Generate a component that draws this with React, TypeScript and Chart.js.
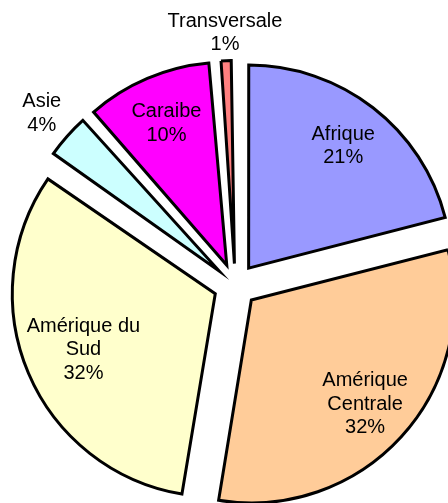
import React, { useEffect, useRef } from "react";
import { Chart, registerables } from "chart.js";

Chart.register(...registerables);

const categories = ["Afrique", "Amérique Centrale", "Amérique du Sud", "Asie", "Caraibe", "Transversale"];
const values = [21.0, 31.6, 32.0, 3.9, 10.2, 1.3];
const colors = ["#9999FF", "#FFCC99", "#FFFFCC", "#CCFFFF", "#FF00FF", "#FF8080"];

const FONT_SIZE = 20;
const LINE_H = 23.5;
const FONT = `${FONT_SIZE}px "Liberation Sans", Arial, sans-serif`;
const WRAP_W = 120;
const EXPLODE = 87; // chart.js arc offset (translation = offset / 4)
const RADIUS = 203;

function wrap(ctx: CanvasRenderingContext2D, text: string): string[] {
  const words = text.split(" ");
  const lines: string[] = [];
  let cur = "";
  for (const w of words) {
    const t = cur ? cur + " " + w : w;
    if (cur && ctx.measureText(t).width > WRAP_W) {
      lines.push(cur);
      cur = w;
    } else cur = t;
  }
  if (cur) lines.push(cur);
  return lines;
}

// keep every exploded slice at the same radius
const radiusFix = {
  id: "radiusFix",
  beforeDatasetDraw(chart: any, args: any) {
    const meta = args.meta;
    const base = meta.controller.outerRadius;
    meta.data.forEach((arc: any) => {
      const off = (arc.options.offset || 0) / 4;
      const fix = 1 - Math.sin(Math.min(Math.PI, arc.circumference || 0));
      arc.outerRadius = base - off * fix;
    });
  },
};

const labelPlugin = {
  id: "sliceLabels",
  afterDatasetsDraw(chart: any) {
    const ctx: CanvasRenderingContext2D = chart.ctx;
    const meta = chart.getDatasetMeta(0);
    const data: number[] = chart.data.datasets[0].data;
    const total = data.reduce((a, b) => a + b, 0);
    const R = meta.controller.outerRadius;
    ctx.save();
    ctx.font = FONT;
    ctx.fillStyle = "#000";
    ctx.textAlign = "center";
    ctx.textBaseline = "middle";
    meta.data.forEach((arc: any, i: number) => {
      const { x, y, startAngle, endAngle } = arc.getProps(["x", "y", "startAngle", "endAngle"], true);
      const mid = (startAngle + endAngle) / 2;
      const t = (arc.options.offset || 0) / 4;
      const dx = Math.cos(mid);
      const dy = Math.sin(mid);
      const ax = x + dx * t;
      const ay = y + dy * t;
      const pct = (data[i] / total) * 100;
      const lines = [...wrap(ctx, chart.data.labels[i]), Math.round(pct) + "%"];
      const widths = lines.map((l) => ctx.measureText(l).width);
      const n = lines.length;
      const offs = lines.map((_, k) => (k - (n - 1) / 2) * LINE_H);
      const hg = 8;
      let dist: number;
      if (pct < 5) {
        const hw = Math.max(...widths) / 2;
        const hh = ((n - 1) / 2) * LINE_H + hg;
        const ex = Math.abs(dx) > 1e-6 ? hw / Math.abs(dx) : Infinity;
        const ey = Math.abs(dy) > 1e-6 ? hh / Math.abs(dy) : Infinity;
        dist = R + 8 + Math.min(ex, ey);
      } else {
        const limit = R - 10;
        const maxCorner = (d: number) => {
          let m = 0;
          lines.forEach((_, k) => {
            const cx = dx * d;
            const cy = dy * d + offs[k];
            for (const sx of [-1, 1])
              for (const sy of [-1, 1])
                m = Math.max(m, Math.hypot(cx + (sx * widths[k]) / 2, cy + sy * hg));
          });
          return m;
        };
        dist = 0.76 * R;
        while (dist > 0 && maxCorner(dist) > limit) dist -= 0.5;
      }
      const cx = ax + dx * dist;
      const cy = ay + dy * dist;
      lines.forEach((l, k) => ctx.fillText(l, cx, cy + offs[k]));
    });
    ctx.restore();
  },
};

export default function App() {
  const ref = useRef<HTMLCanvasElement>(null);
  useEffect(() => {
    const chart = new Chart(ref.current as HTMLCanvasElement, {
      type: "pie",
      data: {
        labels: categories,
        datasets: [
          {
            data: values,
            backgroundColor: colors,
            borderColor: "#000",
            borderWidth: 3,
            borderJoinStyle: "miter",
            offset: EXPLODE,
            radius: RADIUS,
            clip: false,
          } as any,
        ],
      },
      options: {
        animation: false,
        responsive: true,
        maintainAspectRatio: false,
        events: [],
        layout: { padding: { left: 22.6, top: 67.6, right: 0, bottom: 0 } },
        plugins: { legend: { display: false }, tooltip: { enabled: false } },
      } as any,
      plugins: [radiusFix, labelPlugin],
    });
    return () => chart.destroy();
  }, []);
  return (
    <div style={{ position: "fixed", left: 0, top: 0, width: 448, height: 503, background: "#fff" }}>
      <canvas ref={ref} />
    </div>
  );
}
